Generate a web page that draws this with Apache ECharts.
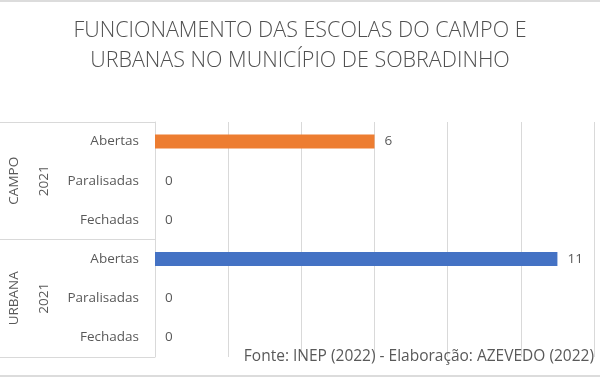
<!DOCTYPE html>
<html>
<head>
<meta charset="utf-8">
<script src="https://cdn.jsdelivr.net/npm/echarts@6/dist/echarts.min.js"></script>
<style>
  html, body { margin: 0; padding: 0; background: #fff; }
  #chart { width: 600px; height: 377px; }
</style>
</head>
<body>
<div id="chart"></div>
<script>
// categorias (de cima para baixo)
var situacoes = ["Abertas", "Paralisadas", "Fechadas", "Abertas", "Paralisadas", "Fechadas"];
var anos = ["2021", "2021"];
var grupos = ["CAMPO", "URBANA"];
var valores = [6, 0, 0, 11, 0, 0];
var coresGrupo = ["#ED7D31", "#4472C4"];
var fonte = "Fonte: INEP (2022) - Elaboração: AZEVEDO (2022)";

var myChart = echarts.init(document.getElementById("chart"));
var txt = "#595959";
var linha = "#d9d9d9";
var fam = "'Open Sans', sans-serif";

var data = [];
for (var i = 0; i < valores.length; i++) {
  data.push({
    value: valores[i],
    itemStyle: { color: coresGrupo[Math.floor(i / 3)] }
  });
}

var option = {
  animation: false,
  backgroundColor: "#fff",
  textStyle: { fontFamily: fam },
  title: [
    {
      text: "FUNCIONAMENTO DAS ESCOLAS DO CAMPO E\nURBANAS NO MUNICÍPIO DE SOBRADINHO",
      left: "center",
      top: 16,
      padding: 0,
      textStyle: { color: "#505050", fontSize: 21.5, fontWeight: 300, lineHeight: 30, fontFamily: fam }
    },
    {
      text: fonte,
      right: 6,
      top: 349,
      padding: 0,
      textStyle: { color: txt, fontSize: 15.5, fontWeight: "normal", fontFamily: fam }
    }
  ],
  grid: { left: 155, right: 6, top: 122, bottom: 20, containLabel: false },
  xAxis: {
    type: "value",
    min: 0,
    max: 12,
    interval: 2,
    axisLabel: { show: false },
    axisLine: { show: false },
    axisTick: { show: false },
    splitLine: { lineStyle: { color: linha, width: 1 } }
  },
  yAxis: [
    {
      type: "category",
      inverse: true,
      data: situacoes,
      axisLine: { show: true, lineStyle: { color: linha } },
      axisTick: {
        show: true,
        length: 155,
        interval: function (idx) { return idx % 3 === 0; },
        lineStyle: { color: linha }
      },
      axisLabel: { color: txt, fontSize: 13.5, margin: 16, fontFamily: fam }
    },
    {
      type: "category",
      inverse: true,
      data: anos,
      position: "left",
      offset: 104,
      axisLine: { show: false },
      axisTick: { show: false },
      axisLabel: { color: txt, fontSize: 13.5, rotate: 90, margin: 0, fontFamily: fam }
    },
    {
      type: "category",
      inverse: true,
      data: grupos,
      position: "left",
      offset: 134,
      axisLine: { show: false },
      axisTick: { show: false },
      axisLabel: { color: txt, fontSize: 13.5, rotate: 90, margin: 0, fontFamily: fam }
    }
  ],
  series: [
    {
      type: "bar",
      barWidth: 14,
      data: data,
      label: {
        show: true,
        position: "right",
        distance: 10,
        color: txt,
        fontSize: 13.5,
        fontFamily: fam
      }
    }
  ],
  graphic: [
    { type: "rect", shape: { x: 0, y: 0, width: 600, height: 2 }, style: { fill: "#dcdcdc" } },
    { type: "rect", shape: { x: 0, y: 375, width: 600, height: 2 }, style: { fill: "#dcdcdc" } }
  ]
};
myChart.setOption(option);
</script>
</body>
</html>
